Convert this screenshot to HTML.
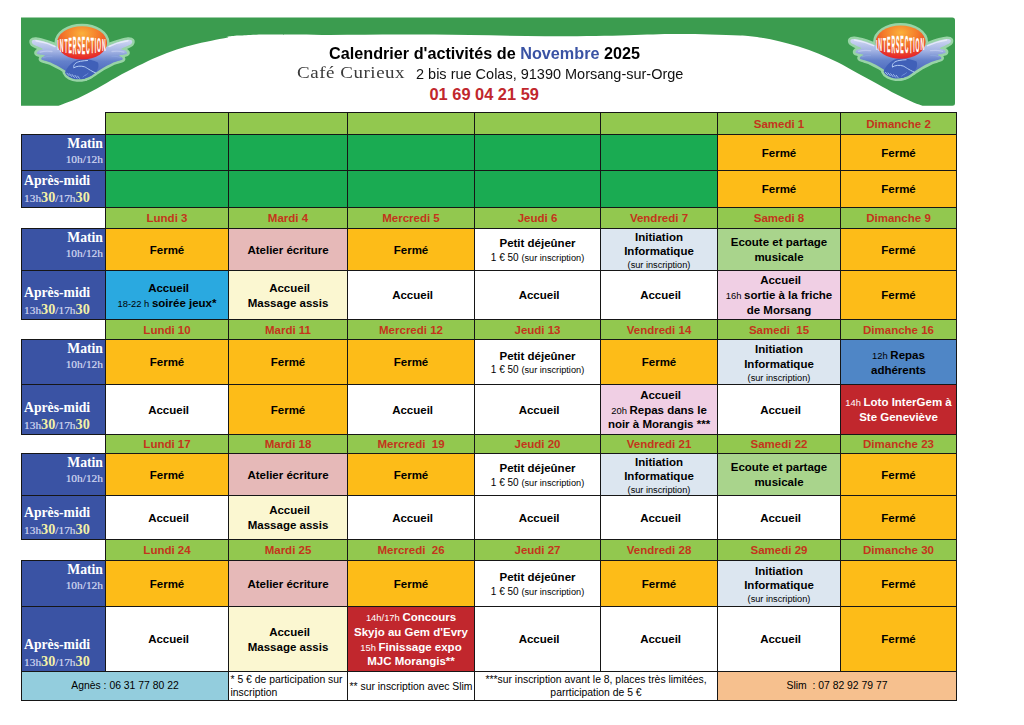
<!DOCTYPE html>
<html><head><meta charset="utf-8"><title>Calendrier</title>
<style>
html,body{margin:0;padding:0;background:#fff;}
body{width:1024px;height:725px;position:relative;overflow:hidden;font-family:"Liberation Sans",sans-serif;color:#000;}
.c{position:absolute;box-sizing:border-box;border:1px solid #161616;display:flex;align-items:center;justify-content:center;text-align:center;font-size:11.5px;line-height:14.75px;}
.c .t{width:100%;padding-top:1px;}
.h{color:#c4351c;font-weight:bold;font-size:11.5px;}
.h .t{padding-top:1px;}
.ln{line-height:14.75px;}
.l2{line-height:13.2px;}
.l3{line-height:11.5px;}
.m,.m2,.s{line-height:0;}
.m{font-size:9.4px;font-weight:normal;}
.m2{font-size:10px;font-weight:normal;}
.s{font-size:9.2px;font-weight:normal;}
.w{color:#fff;}
.lab{background:#3a53a4;font-family:"Liberation Serif",serif;color:#fff;display:block;}
.lab .l1{font-weight:bold;font-size:13.7px;}
.lab .l2{font-size:11.4px;color:#d3d8f1;-webkit-text-stroke:0.2px #d3d8f1;}
.lab .l2 b{font-size:14.2px;color:#f4f1a6;-webkit-text-stroke:0;}
.mt{position:absolute;right:2px;top:1px;text-align:right;line-height:15.3px;}
.am{position:absolute;left:2px;bottom:-1px;text-align:left;line-height:17.6px;white-space:nowrap;}
.f{font-size:10.4px;line-height:12.6px;color:#000;}
.fl{text-align:left;justify-content:flex-start;}
.fl .t{padding-left:1.5px;padding-top:2px;}
#ban{position:absolute;left:0;top:0;}
.tt{position:absolute;white-space:nowrap;transform-origin:0 0;}
</style></head><body>
<svg id="ban" width="1024" height="112" viewBox="0 0 1024 112">
<defs>
<radialGradient id="og" cx="50%" cy="22%" r="75%"><stop offset="0" stop-color="#fbb03b"/><stop offset="0.45" stop-color="#f47b2a"/><stop offset="1" stop-color="#e5262a"/></radialGradient>
<linearGradient id="wg" x1="0" y1="0" x2="0" y2="1"><stop offset="0" stop-color="#d2d9f3"/><stop offset="0.3" stop-color="#a3b3e3"/><stop offset="0.55" stop-color="#6481cb"/><stop offset="1" stop-color="#3f5fb6"/></linearGradient>
<filter id="gl" x="-10%" y="-10%" width="120%" height="120%"><feGaussianBlur stdDeviation="0.55"/></filter>
</defs>
<path fill="#3b9c4f" d="M21,17.4 H952.3 Q955,17.4 955,20.2 V103.2 Q955,105.7 952.3,105.7 H922.5 C921.00,105.08 917.88,104.38 913.50,102.50 C909.12,100.62 902.25,97.38 896.25,94.30 C890.25,91.22 884.01,87.55 877.50,84.00 C870.99,80.45 863.83,76.63 857.20,73.00 C850.57,69.37 844.22,65.47 837.70,62.20 C831.18,58.93 824.62,56.00 818.10,53.40 C811.58,50.80 805.12,48.62 798.60,46.60 C792.08,44.58 785.52,42.83 779.00,41.30 C772.48,39.77 766.00,38.35 759.50,37.40 C753.00,36.45 748.25,36.10 740.00,35.60 C731.75,35.10 721.67,34.67 710.00,34.40 C698.33,34.13 685.00,33.83 670.00,34.00 C655.00,34.17 640.83,35.03 620.00,35.40 C599.17,35.77 570.00,36.27 545.00,36.20 C520.00,36.13 494.17,35.27 470.00,35.00 C445.83,34.73 423.33,34.60 400.00,34.60 C376.67,34.60 352.50,35.00 330.00,35.00 C307.50,35.00 280.17,34.50 265.00,34.60 C249.83,34.70 245.17,35.27 239.00,35.60 C232.83,35.93 229.92,36.27 228.00,36.60 C226.08,36.93 229.53,37.07 227.50,37.60 C225.47,38.13 221.01,38.72 215.80,39.80 C210.59,40.88 202.77,42.48 196.25,44.10 C189.73,45.72 183.21,47.35 176.70,49.50 C170.19,51.65 163.70,54.23 157.20,57.00 C150.70,59.77 144.48,62.72 137.70,66.10 C130.92,69.48 123.28,73.55 116.50,77.30 C109.72,81.05 103.42,85.12 97.00,88.60 C90.58,92.08 84.42,95.35 78.00,98.20 C71.58,101.05 61.75,104.45 58.50,105.70 H21 Z"/>
<g transform="translate(82.0,42.9)">
<g fill="#9ed8ab" stroke="#9ed8ab" stroke-width="5.0" stroke-linejoin="round" opacity="0.95" filter="url(#gl)"><path d="M20.00,6.00 C21.60,5.25 26.45,2.77 29.57,1.50 C32.70,0.23 35.98,-0.82 38.73,-1.60 C41.47,-2.38 44.17,-3.10 46.05,-3.20 C47.92,-3.30 49.45,-2.90 49.98,-2.20 C50.51,-1.50 50.21,0.03 49.25,1.00 C48.29,1.97 45.89,2.73 44.22,3.60 C42.54,4.47 39.26,5.47 39.18,6.20 C39.11,6.93 42.77,7.28 43.76,8.00 C44.75,8.72 45.51,9.87 45.13,10.50 C44.75,11.13 42.80,11.45 41.47,11.80 C40.14,12.15 37.40,12.13 37.17,12.60 C36.94,13.07 39.53,13.93 40.10,14.60 C40.66,15.27 41.24,16.00 40.55,16.60 C39.87,17.20 37.81,17.55 35.98,18.20 C34.15,18.85 32.07,19.37 29.57,20.50 C27.08,21.63 23.60,23.50 21.00,25.00 C18.40,26.50 16.17,28.07 14.00,29.50 C11.83,30.93 10.00,32.55 8.00,33.60 C6.00,34.65 3.83,35.47 2.00,35.80 C0.17,36.13 -2.17,35.63 -3.00,35.60 L0,10 Z"/><path d="M-20.00,6.00 C-21.60,5.25 -26.45,2.77 -29.57,1.50 C-32.70,0.23 -35.98,-0.82 -38.73,-1.60 C-41.47,-2.38 -44.17,-3.10 -46.05,-3.20 C-47.92,-3.30 -49.45,-2.90 -49.98,-2.20 C-50.51,-1.50 -50.21,0.03 -49.25,1.00 C-48.29,1.97 -45.89,2.73 -44.22,3.60 C-42.54,4.47 -39.26,5.47 -39.18,6.20 C-39.11,6.93 -42.77,7.28 -43.76,8.00 C-44.75,8.72 -45.51,9.87 -45.13,10.50 C-44.75,11.13 -42.80,11.45 -41.47,11.80 C-40.14,12.15 -37.40,12.13 -37.17,12.60 C-36.94,13.07 -39.53,13.93 -40.10,14.60 C-40.66,15.27 -41.24,16.00 -40.55,16.60 C-39.87,17.20 -37.81,17.55 -35.98,18.20 C-34.15,18.85 -32.07,19.37 -29.57,20.50 C-27.08,21.63 -23.60,23.50 -21.00,25.00 C-18.40,26.50 -16.17,28.07 -14.00,29.50 C-11.83,30.93 -10.00,32.55 -8.00,33.60 C-6.00,34.65 -3.83,35.47 -2.00,35.80 C-0.17,36.13 2.17,35.63 3.00,35.60 L0,10 Z"/><ellipse cx="0" cy="0" rx="25" ry="16.7"/><path d="M-17,29.5 C-15,24 -10,18.5 -3,16.5 C3,15.3 10,16.5 16,19.5 C17.5,24 15.5,29 10,32 C5,35 0,36.8 -5,36.4 C-10,36 -15.5,33.5 -17,29.5 Z"/></g>
<path d="M20.00,6.00 C21.60,5.25 26.45,2.77 29.57,1.50 C32.70,0.23 35.98,-0.82 38.73,-1.60 C41.47,-2.38 44.17,-3.10 46.05,-3.20 C47.92,-3.30 49.45,-2.90 49.98,-2.20 C50.51,-1.50 50.21,0.03 49.25,1.00 C48.29,1.97 45.89,2.73 44.22,3.60 C42.54,4.47 39.26,5.47 39.18,6.20 C39.11,6.93 42.77,7.28 43.76,8.00 C44.75,8.72 45.51,9.87 45.13,10.50 C44.75,11.13 42.80,11.45 41.47,11.80 C40.14,12.15 37.40,12.13 37.17,12.60 C36.94,13.07 39.53,13.93 40.10,14.60 C40.66,15.27 41.24,16.00 40.55,16.60 C39.87,17.20 37.81,17.55 35.98,18.20 C34.15,18.85 32.07,19.37 29.57,20.50 C27.08,21.63 23.60,23.50 21.00,25.00 C18.40,26.50 16.17,28.07 14.00,29.50 C11.83,30.93 10.00,32.55 8.00,33.60 C6.00,34.65 3.83,35.47 2.00,35.80 C0.17,36.13 -2.17,35.63 -3.00,35.60 L0,10 Z" fill="url(#wg)"/><path d="M-20.00,6.00 C-21.60,5.25 -26.45,2.77 -29.57,1.50 C-32.70,0.23 -35.98,-0.82 -38.73,-1.60 C-41.47,-2.38 -44.17,-3.10 -46.05,-3.20 C-47.92,-3.30 -49.45,-2.90 -49.98,-2.20 C-50.51,-1.50 -50.21,0.03 -49.25,1.00 C-48.29,1.97 -45.89,2.73 -44.22,3.60 C-42.54,4.47 -39.26,5.47 -39.18,6.20 C-39.11,6.93 -42.77,7.28 -43.76,8.00 C-44.75,8.72 -45.51,9.87 -45.13,10.50 C-44.75,11.13 -42.80,11.45 -41.47,11.80 C-40.14,12.15 -37.40,12.13 -37.17,12.60 C-36.94,13.07 -39.53,13.93 -40.10,14.60 C-40.66,15.27 -41.24,16.00 -40.55,16.60 C-39.87,17.20 -37.81,17.55 -35.98,18.20 C-34.15,18.85 -32.07,19.37 -29.57,20.50 C-27.08,21.63 -23.60,23.50 -21.00,25.00 C-18.40,26.50 -16.17,28.07 -14.00,29.50 C-11.83,30.93 -10.00,32.55 -8.00,33.60 C-6.00,34.65 -3.83,35.47 -2.00,35.80 C-0.17,36.13 2.17,35.63 3.00,35.60 L0,10 Z" fill="url(#wg)"/>
<path d="M27.0,3.6 Q36.0,-0.8 46.0,-2.2" fill="none" stroke="#eef1fb" stroke-width="1.5" stroke-linecap="round" opacity="0.8"/>
<path d="M30.0,8.6 Q36.0,7.6 42.0,9.2" fill="none" stroke="#c3cef0" stroke-width="1.3" stroke-linecap="round" opacity="0.75"/>
<path d="M30.0,13.4 Q34.0,13 38.5,14.6" fill="none" stroke="#8fa6e0" stroke-width="1.1" stroke-linecap="round" opacity="0.7"/>
<path d="M-27.0,3.6 Q-36.0,-0.8 -46.0,-2.2" fill="none" stroke="#eef1fb" stroke-width="1.5" stroke-linecap="round" opacity="0.8"/>
<path d="M-30.0,8.6 Q-36.0,7.6 -42.0,9.2" fill="none" stroke="#c3cef0" stroke-width="1.3" stroke-linecap="round" opacity="0.75"/>
<path d="M-30.0,13.4 Q-34.0,13 -38.5,14.6" fill="none" stroke="#8fa6e0" stroke-width="1.1" stroke-linecap="round" opacity="0.7"/>
<path d="M-17,29.5 C-15,24 -10,18.5 -3,16.5 C3,15.3 10,16.5 16,19.5 C17.5,24 15.5,29 10,32 C5,35 0,36.8 -5,36.4 C-10,36 -15.5,33.5 -17,29.5 Z" fill="#4060b8"/>
<path d="M-8.2,24.6 C-9,21.5 -6,19.2 -1.5,18.4 C1,17.9 3.5,17.7 5.5,17.6 M-8,24.8 C-5.5,23 -1,22.8 2.6,23.9 C5,25 8,27.6 13.6,30" fill="none" stroke="#b4cdf5" stroke-width="1.0" stroke-linecap="round"/>
<path d="M-15.2,30.2 l2.2,2.4 M-12.6,30.8 l2.3,2.8 M-9.9,31.6 l2.3,2.9 M-7.1,32.4 l2.1,2.7 M-4.4,33.2 l1.8,2.2" fill="none" stroke="#b4cdf5" stroke-width="0.85" stroke-linecap="round"/>
<path d="M6,30.5 l-2.6,2.2 M3.4,32 l-2.4,2" fill="none" stroke="#6f8ed8" stroke-width="0.8" stroke-linecap="round"/>
<ellipse cx="0" cy="0" rx="25" ry="16.7" fill="url(#og)"/>
<text transform="translate(-23.93,7.45) scale(0.1275,0.3524)" text-anchor="middle" font-family="Liberation Sans, sans-serif" font-weight="bold" font-size="40" fill="#fff" stroke="#fff" stroke-width="0.45">I</text>
<text transform="translate(-20.50,8.61) scale(0.1275,0.4371)" text-anchor="middle" font-family="Liberation Sans, sans-serif" font-weight="bold" font-size="40" fill="#fff" stroke="#fff" stroke-width="0.45">N</text>
<text transform="translate(-16.04,9.62) scale(0.1275,0.5099)" text-anchor="middle" font-family="Liberation Sans, sans-serif" font-weight="bold" font-size="40" fill="#fff" stroke="#fff" stroke-width="0.45">T</text>
<text transform="translate(-11.82,10.27) scale(0.1275,0.5573)" text-anchor="middle" font-family="Liberation Sans, sans-serif" font-weight="bold" font-size="40" fill="#fff" stroke="#fff" stroke-width="0.45">E</text>
<text transform="translate(-7.37,10.72) scale(0.1275,0.5899)" text-anchor="middle" font-family="Liberation Sans, sans-serif" font-weight="bold" font-size="40" fill="#fff" stroke="#fff" stroke-width="0.45">R</text>
<text transform="translate(-2.86,10.95) scale(0.1275,0.6070)" text-anchor="middle" font-family="Liberation Sans, sans-serif" font-weight="bold" font-size="40" fill="#fff" stroke="#fff" stroke-width="0.45">S</text>
<text transform="translate(1.45,10.98) scale(0.1275,0.6092)" text-anchor="middle" font-family="Liberation Sans, sans-serif" font-weight="bold" font-size="40" fill="#fff" stroke="#fff" stroke-width="0.45">E</text>
<text transform="translate(5.90,10.82) scale(0.1275,0.5972)" text-anchor="middle" font-family="Liberation Sans, sans-serif" font-weight="bold" font-size="40" fill="#fff" stroke="#fff" stroke-width="0.45">C</text>
<text transform="translate(10.31,10.45) scale(0.1275,0.5702)" text-anchor="middle" font-family="Liberation Sans, sans-serif" font-weight="bold" font-size="40" fill="#fff" stroke="#fff" stroke-width="0.45">T</text>
<text transform="translate(13.46,10.04) scale(0.1275,0.5409)" text-anchor="middle" font-family="Liberation Sans, sans-serif" font-weight="bold" font-size="40" fill="#fff" stroke="#fff" stroke-width="0.45">I</text>
<text transform="translate(17.00,9.43) scale(0.1275,0.4966)" text-anchor="middle" font-family="Liberation Sans, sans-serif" font-weight="bold" font-size="40" fill="#fff" stroke="#fff" stroke-width="0.45">O</text>
<text transform="translate(21.83,8.22) scale(0.1275,0.4088)" text-anchor="middle" font-family="Liberation Sans, sans-serif" font-weight="bold" font-size="40" fill="#fff" stroke="#fff" stroke-width="0.45">N</text>
</g>
<g transform="translate(900.6,42.1)">
<g fill="#9ed8ab" stroke="#9ed8ab" stroke-width="5.0" stroke-linejoin="round" opacity="0.95" filter="url(#gl)"><path d="M20.00,6.00 C21.60,5.25 26.45,2.77 29.57,1.50 C32.70,0.23 35.98,-0.82 38.73,-1.60 C41.47,-2.38 44.17,-3.10 46.05,-3.20 C47.92,-3.30 49.45,-2.90 49.98,-2.20 C50.51,-1.50 50.21,0.03 49.25,1.00 C48.29,1.97 45.89,2.73 44.22,3.60 C42.54,4.47 39.26,5.47 39.18,6.20 C39.11,6.93 42.77,7.28 43.76,8.00 C44.75,8.72 45.51,9.87 45.13,10.50 C44.75,11.13 42.80,11.45 41.47,11.80 C40.14,12.15 37.40,12.13 37.17,12.60 C36.94,13.07 39.53,13.93 40.10,14.60 C40.66,15.27 41.24,16.00 40.55,16.60 C39.87,17.20 37.81,17.55 35.98,18.20 C34.15,18.85 32.07,19.37 29.57,20.50 C27.08,21.63 23.60,23.50 21.00,25.00 C18.40,26.50 16.17,28.07 14.00,29.50 C11.83,30.93 10.00,32.55 8.00,33.60 C6.00,34.65 3.83,35.47 2.00,35.80 C0.17,36.13 -2.17,35.63 -3.00,35.60 L0,10 Z"/><path d="M-20.00,6.00 C-21.60,5.25 -26.45,2.77 -29.57,1.50 C-32.70,0.23 -35.98,-0.82 -38.73,-1.60 C-41.47,-2.38 -44.17,-3.10 -46.05,-3.20 C-47.92,-3.30 -49.45,-2.90 -49.98,-2.20 C-50.51,-1.50 -50.21,0.03 -49.25,1.00 C-48.29,1.97 -45.89,2.73 -44.22,3.60 C-42.54,4.47 -39.26,5.47 -39.18,6.20 C-39.11,6.93 -42.77,7.28 -43.76,8.00 C-44.75,8.72 -45.51,9.87 -45.13,10.50 C-44.75,11.13 -42.80,11.45 -41.47,11.80 C-40.14,12.15 -37.40,12.13 -37.17,12.60 C-36.94,13.07 -39.53,13.93 -40.10,14.60 C-40.66,15.27 -41.24,16.00 -40.55,16.60 C-39.87,17.20 -37.81,17.55 -35.98,18.20 C-34.15,18.85 -32.07,19.37 -29.57,20.50 C-27.08,21.63 -23.60,23.50 -21.00,25.00 C-18.40,26.50 -16.17,28.07 -14.00,29.50 C-11.83,30.93 -10.00,32.55 -8.00,33.60 C-6.00,34.65 -3.83,35.47 -2.00,35.80 C-0.17,36.13 2.17,35.63 3.00,35.60 L0,10 Z"/><ellipse cx="0" cy="0" rx="25" ry="16.7"/><path d="M-17,29.5 C-15,24 -10,18.5 -3,16.5 C3,15.3 10,16.5 16,19.5 C17.5,24 15.5,29 10,32 C5,35 0,36.8 -5,36.4 C-10,36 -15.5,33.5 -17,29.5 Z"/></g>
<path d="M20.00,6.00 C21.60,5.25 26.45,2.77 29.57,1.50 C32.70,0.23 35.98,-0.82 38.73,-1.60 C41.47,-2.38 44.17,-3.10 46.05,-3.20 C47.92,-3.30 49.45,-2.90 49.98,-2.20 C50.51,-1.50 50.21,0.03 49.25,1.00 C48.29,1.97 45.89,2.73 44.22,3.60 C42.54,4.47 39.26,5.47 39.18,6.20 C39.11,6.93 42.77,7.28 43.76,8.00 C44.75,8.72 45.51,9.87 45.13,10.50 C44.75,11.13 42.80,11.45 41.47,11.80 C40.14,12.15 37.40,12.13 37.17,12.60 C36.94,13.07 39.53,13.93 40.10,14.60 C40.66,15.27 41.24,16.00 40.55,16.60 C39.87,17.20 37.81,17.55 35.98,18.20 C34.15,18.85 32.07,19.37 29.57,20.50 C27.08,21.63 23.60,23.50 21.00,25.00 C18.40,26.50 16.17,28.07 14.00,29.50 C11.83,30.93 10.00,32.55 8.00,33.60 C6.00,34.65 3.83,35.47 2.00,35.80 C0.17,36.13 -2.17,35.63 -3.00,35.60 L0,10 Z" fill="url(#wg)"/><path d="M-20.00,6.00 C-21.60,5.25 -26.45,2.77 -29.57,1.50 C-32.70,0.23 -35.98,-0.82 -38.73,-1.60 C-41.47,-2.38 -44.17,-3.10 -46.05,-3.20 C-47.92,-3.30 -49.45,-2.90 -49.98,-2.20 C-50.51,-1.50 -50.21,0.03 -49.25,1.00 C-48.29,1.97 -45.89,2.73 -44.22,3.60 C-42.54,4.47 -39.26,5.47 -39.18,6.20 C-39.11,6.93 -42.77,7.28 -43.76,8.00 C-44.75,8.72 -45.51,9.87 -45.13,10.50 C-44.75,11.13 -42.80,11.45 -41.47,11.80 C-40.14,12.15 -37.40,12.13 -37.17,12.60 C-36.94,13.07 -39.53,13.93 -40.10,14.60 C-40.66,15.27 -41.24,16.00 -40.55,16.60 C-39.87,17.20 -37.81,17.55 -35.98,18.20 C-34.15,18.85 -32.07,19.37 -29.57,20.50 C-27.08,21.63 -23.60,23.50 -21.00,25.00 C-18.40,26.50 -16.17,28.07 -14.00,29.50 C-11.83,30.93 -10.00,32.55 -8.00,33.60 C-6.00,34.65 -3.83,35.47 -2.00,35.80 C-0.17,36.13 2.17,35.63 3.00,35.60 L0,10 Z" fill="url(#wg)"/>
<path d="M27.0,3.6 Q36.0,-0.8 46.0,-2.2" fill="none" stroke="#eef1fb" stroke-width="1.5" stroke-linecap="round" opacity="0.8"/>
<path d="M30.0,8.6 Q36.0,7.6 42.0,9.2" fill="none" stroke="#c3cef0" stroke-width="1.3" stroke-linecap="round" opacity="0.75"/>
<path d="M30.0,13.4 Q34.0,13 38.5,14.6" fill="none" stroke="#8fa6e0" stroke-width="1.1" stroke-linecap="round" opacity="0.7"/>
<path d="M-27.0,3.6 Q-36.0,-0.8 -46.0,-2.2" fill="none" stroke="#eef1fb" stroke-width="1.5" stroke-linecap="round" opacity="0.8"/>
<path d="M-30.0,8.6 Q-36.0,7.6 -42.0,9.2" fill="none" stroke="#c3cef0" stroke-width="1.3" stroke-linecap="round" opacity="0.75"/>
<path d="M-30.0,13.4 Q-34.0,13 -38.5,14.6" fill="none" stroke="#8fa6e0" stroke-width="1.1" stroke-linecap="round" opacity="0.7"/>
<path d="M-17,29.5 C-15,24 -10,18.5 -3,16.5 C3,15.3 10,16.5 16,19.5 C17.5,24 15.5,29 10,32 C5,35 0,36.8 -5,36.4 C-10,36 -15.5,33.5 -17,29.5 Z" fill="#4060b8"/>
<path d="M-8.2,24.6 C-9,21.5 -6,19.2 -1.5,18.4 C1,17.9 3.5,17.7 5.5,17.6 M-8,24.8 C-5.5,23 -1,22.8 2.6,23.9 C5,25 8,27.6 13.6,30" fill="none" stroke="#b4cdf5" stroke-width="1.0" stroke-linecap="round"/>
<path d="M-15.2,30.2 l2.2,2.4 M-12.6,30.8 l2.3,2.8 M-9.9,31.6 l2.3,2.9 M-7.1,32.4 l2.1,2.7 M-4.4,33.2 l1.8,2.2" fill="none" stroke="#b4cdf5" stroke-width="0.85" stroke-linecap="round"/>
<path d="M6,30.5 l-2.6,2.2 M3.4,32 l-2.4,2" fill="none" stroke="#6f8ed8" stroke-width="0.8" stroke-linecap="round"/>
<ellipse cx="0" cy="0" rx="25" ry="16.7" fill="url(#og)"/>
<text transform="translate(-23.93,7.45) scale(0.1275,0.3524)" text-anchor="middle" font-family="Liberation Sans, sans-serif" font-weight="bold" font-size="40" fill="#fff" stroke="#fff" stroke-width="0.45">I</text>
<text transform="translate(-20.50,8.61) scale(0.1275,0.4371)" text-anchor="middle" font-family="Liberation Sans, sans-serif" font-weight="bold" font-size="40" fill="#fff" stroke="#fff" stroke-width="0.45">N</text>
<text transform="translate(-16.04,9.62) scale(0.1275,0.5099)" text-anchor="middle" font-family="Liberation Sans, sans-serif" font-weight="bold" font-size="40" fill="#fff" stroke="#fff" stroke-width="0.45">T</text>
<text transform="translate(-11.82,10.27) scale(0.1275,0.5573)" text-anchor="middle" font-family="Liberation Sans, sans-serif" font-weight="bold" font-size="40" fill="#fff" stroke="#fff" stroke-width="0.45">E</text>
<text transform="translate(-7.37,10.72) scale(0.1275,0.5899)" text-anchor="middle" font-family="Liberation Sans, sans-serif" font-weight="bold" font-size="40" fill="#fff" stroke="#fff" stroke-width="0.45">R</text>
<text transform="translate(-2.86,10.95) scale(0.1275,0.6070)" text-anchor="middle" font-family="Liberation Sans, sans-serif" font-weight="bold" font-size="40" fill="#fff" stroke="#fff" stroke-width="0.45">S</text>
<text transform="translate(1.45,10.98) scale(0.1275,0.6092)" text-anchor="middle" font-family="Liberation Sans, sans-serif" font-weight="bold" font-size="40" fill="#fff" stroke="#fff" stroke-width="0.45">E</text>
<text transform="translate(5.90,10.82) scale(0.1275,0.5972)" text-anchor="middle" font-family="Liberation Sans, sans-serif" font-weight="bold" font-size="40" fill="#fff" stroke="#fff" stroke-width="0.45">C</text>
<text transform="translate(10.31,10.45) scale(0.1275,0.5702)" text-anchor="middle" font-family="Liberation Sans, sans-serif" font-weight="bold" font-size="40" fill="#fff" stroke="#fff" stroke-width="0.45">T</text>
<text transform="translate(13.46,10.04) scale(0.1275,0.5409)" text-anchor="middle" font-family="Liberation Sans, sans-serif" font-weight="bold" font-size="40" fill="#fff" stroke="#fff" stroke-width="0.45">I</text>
<text transform="translate(17.00,9.43) scale(0.1275,0.4966)" text-anchor="middle" font-family="Liberation Sans, sans-serif" font-weight="bold" font-size="40" fill="#fff" stroke="#fff" stroke-width="0.45">O</text>
<text transform="translate(21.83,8.22) scale(0.1275,0.4088)" text-anchor="middle" font-family="Liberation Sans, sans-serif" font-weight="bold" font-size="40" fill="#fff" stroke="#fff" stroke-width="0.45">N</text>
</g>
</svg>
<div class="tt" id="t1" style="left:329px;top:43px;font-weight:bold;font-size:17.4px;line-height:20px;transform:scaleX(0.932);">Calendrier d'activités de <span style="color:#3a53a4">Novembre</span> 2025</div>
<div class="tt" id="t2" style="left:296.5px;top:62px;font-family:'Liberation Serif',serif;font-size:17.4px;line-height:20px;color:#3a3a3a;letter-spacing:0.5px;transform:scaleX(1.09);">Café Curieux</div>
<div class="tt" id="t3" style="left:416px;top:64px;font-size:14.6px;transform:scaleX(0.993);line-height:20px;color:#111;">2 bis rue Colas, 91390 Morsang-sur-Orge</div>
<div class="tt" id="t4" style="left:429.5px;top:84px;font-weight:bold;font-size:16.4px;line-height:20px;color:#c1272d;">01 69 04 21 59</div>
<div class="c h" style="left:105px;top:112px;width:124px;height:23px;background:#92c84f;"></div>
<div class="c h" style="left:228px;top:112px;width:120px;height:23px;background:#92c84f;"></div>
<div class="c h" style="left:347px;top:112px;width:128px;height:23px;background:#92c84f;"></div>
<div class="c h" style="left:474px;top:112px;width:127px;height:23px;background:#92c84f;"></div>
<div class="c h" style="left:600px;top:112px;width:118px;height:23px;background:#92c84f;"></div>
<div class="c h" style="left:717px;top:112px;width:124px;height:23px;background:#92c84f;"><div class="t">Samedi 1</div></div>
<div class="c h" style="left:840px;top:112px;width:117px;height:23px;background:#92c84f;"><div class="t">Dimanche 2</div></div>
<div class="c lab" style="left:21px;top:134px;width:85px;height:37px;"><div class="mt"><span class="l1">Matin</span><br><span class="l2">10h/12h</span></div></div>
<div class="c lab" style="left:21px;top:170px;width:85px;height:38px;"><div class="am"><span class="l1">Après-midi</span><br><span class="l2">13h<b>30</b>/17h<b>30</b></span></div></div>
<div class="c" style="left:105px;top:134px;width:124px;height:37px;background:#1aab52;"></div>
<div class="c" style="left:105px;top:170px;width:124px;height:38px;background:#1aab52;"></div>
<div class="c" style="left:228px;top:134px;width:120px;height:37px;background:#1aab52;"></div>
<div class="c" style="left:228px;top:170px;width:120px;height:38px;background:#1aab52;"></div>
<div class="c" style="left:347px;top:134px;width:128px;height:37px;background:#1aab52;"></div>
<div class="c" style="left:347px;top:170px;width:128px;height:38px;background:#1aab52;"></div>
<div class="c" style="left:474px;top:134px;width:127px;height:37px;background:#1aab52;"></div>
<div class="c" style="left:474px;top:170px;width:127px;height:38px;background:#1aab52;"></div>
<div class="c" style="left:600px;top:134px;width:118px;height:37px;background:#1aab52;"></div>
<div class="c" style="left:600px;top:170px;width:118px;height:38px;background:#1aab52;"></div>
<div class="c" style="left:717px;top:134px;width:124px;height:37px;background:#fdbc18;"><div class="t"><div class="ln"><b>Fermé</b></div></div></div>
<div class="c" style="left:717px;top:170px;width:124px;height:38px;background:#fdbc18;"><div class="t"><div class="ln"><b>Fermé</b></div></div></div>
<div class="c" style="left:840px;top:134px;width:117px;height:37px;background:#fdbc18;"><div class="t"><div class="ln"><b>Fermé</b></div></div></div>
<div class="c" style="left:840px;top:170px;width:117px;height:38px;background:#fdbc18;"><div class="t"><div class="ln"><b>Fermé</b></div></div></div>
<div class="c h" style="left:105px;top:207px;width:124px;height:22px;background:#92c84f;"><div class="t">Lundi 3</div></div>
<div class="c h" style="left:228px;top:207px;width:120px;height:22px;background:#92c84f;"><div class="t">Mardi 4</div></div>
<div class="c h" style="left:347px;top:207px;width:128px;height:22px;background:#92c84f;"><div class="t">Mercredi 5</div></div>
<div class="c h" style="left:474px;top:207px;width:127px;height:22px;background:#92c84f;"><div class="t">Jeudi 6</div></div>
<div class="c h" style="left:600px;top:207px;width:118px;height:22px;background:#92c84f;"><div class="t">Vendredi 7</div></div>
<div class="c h" style="left:717px;top:207px;width:124px;height:22px;background:#92c84f;"><div class="t">Samedi 8</div></div>
<div class="c h" style="left:840px;top:207px;width:117px;height:22px;background:#92c84f;"><div class="t">Dimanche 9</div></div>
<div class="c lab" style="left:21px;top:228px;width:85px;height:43px;"><div class="mt"><span class="l1">Matin</span><br><span class="l2">10h/12h</span></div></div>
<div class="c lab" style="left:21px;top:270px;width:85px;height:50px;"><div class="am"><span class="l1">Après-midi</span><br><span class="l2">13h<b>30</b>/17h<b>30</b></span></div></div>
<div class="c" style="left:105px;top:228px;width:124px;height:43px;background:#fdbc18;"><div class="t"><div class="ln"><b>Fermé</b></div></div></div>
<div class="c" style="left:105px;top:270px;width:124px;height:50px;background:#2aa9e0;"><div class="t"><div class="ln"><b>&nbsp;Accueil</b></div><div class="ln"><span class="m">18-22 h </span><b>soirée jeux*</b></div></div></div>
<div class="c" style="left:228px;top:228px;width:120px;height:43px;background:#e6b9b8;"><div class="t"><div class="ln"><b>Atelier écriture</b></div></div></div>
<div class="c" style="left:228px;top:270px;width:120px;height:50px;background:#fbf7d1;"><div class="t"><div class="ln"><b>&nbsp;Accueil</b></div><div class="ln"><b>Massage assis</b></div></div></div>
<div class="c" style="left:347px;top:228px;width:128px;height:43px;background:#fdbc18;"><div class="t"><div class="ln"><b>Fermé</b></div></div></div>
<div class="c" style="left:347px;top:270px;width:128px;height:50px;background:#ffffff;"><div class="t"><div class="ln"><b>&nbsp;Accueil</b></div></div></div>
<div class="c" style="left:474px;top:228px;width:127px;height:43px;background:#ffffff;"><div class="t"><div class="ln"><b>Petit déjeûner</b></div><div class="l2"><span class="m2">1 € 50 </span><span class="s">(sur inscription)</span></div></div></div>
<div class="c" style="left:474px;top:270px;width:127px;height:50px;background:#ffffff;"><div class="t"><div class="ln"><b>&nbsp;Accueil</b></div></div></div>
<div class="c" style="left:600px;top:228px;width:118px;height:43px;background:#dce6f0;"><div class="t"><div class="ln"><b>Initiation</b></div><div class="ln"><b>Informatique</b></div><div class="l3"><span class="s">(sur inscription)</span></div></div></div>
<div class="c" style="left:600px;top:270px;width:118px;height:50px;background:#ffffff;"><div class="t"><div class="ln"><b>&nbsp;Accueil</b></div></div></div>
<div class="c" style="left:717px;top:228px;width:124px;height:43px;background:#a9d48c;"><div class="t"><div class="ln"><b>Ecoute et partage</b></div><div class="ln"><b>musicale</b></div></div></div>
<div class="c" style="left:717px;top:270px;width:124px;height:50px;background:#f0cfe4;"><div class="t"><div class="ln"><b>&nbsp;Accueil</b></div><div class="ln"><span class="m">16h </span><b>sortie à la friche</b></div><div class="ln"><b>de Morsang</b></div></div></div>
<div class="c" style="left:840px;top:228px;width:117px;height:43px;background:#fdbc18;"><div class="t"><div class="ln"><b>Fermé</b></div></div></div>
<div class="c" style="left:840px;top:270px;width:117px;height:50px;background:#fdbc18;"><div class="t"><div class="ln"><b>Fermé</b></div></div></div>
<div class="c h" style="left:105px;top:319px;width:124px;height:21px;background:#92c84f;"><div class="t">Lundi 10</div></div>
<div class="c h" style="left:228px;top:319px;width:120px;height:21px;background:#92c84f;"><div class="t">Mardi 11</div></div>
<div class="c h" style="left:347px;top:319px;width:128px;height:21px;background:#92c84f;"><div class="t">Mercredi 12</div></div>
<div class="c h" style="left:474px;top:319px;width:127px;height:21px;background:#92c84f;"><div class="t">Jeudi 13</div></div>
<div class="c h" style="left:600px;top:319px;width:118px;height:21px;background:#92c84f;"><div class="t">Vendredi 14</div></div>
<div class="c h" style="left:717px;top:319px;width:124px;height:21px;background:#92c84f;"><div class="t">Samedi&nbsp; 15</div></div>
<div class="c h" style="left:840px;top:319px;width:117px;height:21px;background:#92c84f;"><div class="t">Dimanche 16</div></div>
<div class="c lab" style="left:21px;top:339px;width:85px;height:46px;"><div class="mt"><span class="l1">Matin</span><br><span class="l2">10h/12h</span></div></div>
<div class="c lab" style="left:21px;top:384px;width:85px;height:51px;"><div class="am"><span class="l1">Après-midi</span><br><span class="l2">13h<b>30</b>/17h<b>30</b></span></div></div>
<div class="c" style="left:105px;top:339px;width:124px;height:46px;background:#fdbc18;"><div class="t"><div class="ln"><b>Fermé</b></div></div></div>
<div class="c" style="left:105px;top:384px;width:124px;height:51px;background:#ffffff;"><div class="t"><div class="ln"><b>&nbsp;Accueil</b></div></div></div>
<div class="c" style="left:228px;top:339px;width:120px;height:46px;background:#fdbc18;"><div class="t"><div class="ln"><b>Fermé</b></div></div></div>
<div class="c" style="left:228px;top:384px;width:120px;height:51px;background:#fdbc18;"><div class="t"><div class="ln"><b>Fermé</b></div></div></div>
<div class="c" style="left:347px;top:339px;width:128px;height:46px;background:#fdbc18;"><div class="t"><div class="ln"><b>Fermé</b></div></div></div>
<div class="c" style="left:347px;top:384px;width:128px;height:51px;background:#ffffff;"><div class="t"><div class="ln"><b>&nbsp;Accueil</b></div></div></div>
<div class="c" style="left:474px;top:339px;width:127px;height:46px;background:#ffffff;"><div class="t"><div class="ln"><b>Petit déjeûner</b></div><div class="l2"><span class="m2">1 € 50 </span><span class="s">(sur inscription)</span></div></div></div>
<div class="c" style="left:474px;top:384px;width:127px;height:51px;background:#ffffff;"><div class="t"><div class="ln"><b>&nbsp;Accueil</b></div></div></div>
<div class="c" style="left:600px;top:339px;width:118px;height:46px;background:#fdbc18;"><div class="t"><div class="ln"><b>Fermé</b></div></div></div>
<div class="c" style="left:600px;top:384px;width:118px;height:51px;background:#f0cfe4;"><div class="t"><div class="ln"><b>&nbsp;Accueil</b></div><div class="ln"><span class="m">20h </span><b>Repas dans le</b></div><div class="ln"><b>noir à Morangis ***</b></div></div></div>
<div class="c" style="left:717px;top:339px;width:124px;height:46px;background:#dce6f0;"><div class="t"><div class="ln"><b>Initiation</b></div><div class="ln"><b>Informatique</b></div><div class="l3"><span class="s">(sur inscription)</span></div></div></div>
<div class="c" style="left:717px;top:384px;width:124px;height:51px;background:#ffffff;"><div class="t"><div class="ln"><b>&nbsp;Accueil</b></div></div></div>
<div class="c" style="left:840px;top:339px;width:117px;height:46px;background:#4f86c6;"><div class="t"><div class="ln"><span class="m">12h </span><b>Repas</b></div><div class="ln"><b>adhérents</b></div></div></div>
<div class="c" style="left:840px;top:384px;width:117px;height:51px;background:#c1272d;"><div class="t"><div class="w"><div class="ln"><span class="m">14h </span><b>Loto InterGem à</b></div><div class="ln"><b>Ste Geneviève</b></div></div></div></div>
<div class="c h" style="left:105px;top:434px;width:124px;height:20px;background:#92c84f;"><div class="t">Lundi 17</div></div>
<div class="c h" style="left:228px;top:434px;width:120px;height:20px;background:#92c84f;"><div class="t">Mardi 18</div></div>
<div class="c h" style="left:347px;top:434px;width:128px;height:20px;background:#92c84f;"><div class="t">Mercredi&nbsp; 19</div></div>
<div class="c h" style="left:474px;top:434px;width:127px;height:20px;background:#92c84f;"><div class="t">Jeudi 20</div></div>
<div class="c h" style="left:600px;top:434px;width:118px;height:20px;background:#92c84f;"><div class="t">Vendredi 21</div></div>
<div class="c h" style="left:717px;top:434px;width:124px;height:20px;background:#92c84f;"><div class="t">Samedi 22</div></div>
<div class="c h" style="left:840px;top:434px;width:117px;height:20px;background:#92c84f;"><div class="t">Dimanche 23</div></div>
<div class="c lab" style="left:21px;top:453px;width:85px;height:43px;"><div class="mt"><span class="l1">Matin</span><br><span class="l2">10h/12h</span></div></div>
<div class="c lab" style="left:21px;top:495px;width:85px;height:45px;"><div class="am"><span class="l1">Après-midi</span><br><span class="l2">13h<b>30</b>/17h<b>30</b></span></div></div>
<div class="c" style="left:105px;top:453px;width:124px;height:43px;background:#fdbc18;"><div class="t"><div class="ln"><b>Fermé</b></div></div></div>
<div class="c" style="left:105px;top:495px;width:124px;height:45px;background:#ffffff;"><div class="t"><div class="ln"><b>&nbsp;Accueil</b></div></div></div>
<div class="c" style="left:228px;top:453px;width:120px;height:43px;background:#e6b9b8;"><div class="t"><div class="ln"><b>Atelier écriture</b></div></div></div>
<div class="c" style="left:228px;top:495px;width:120px;height:45px;background:#fbf7d1;"><div class="t"><div class="ln"><b>&nbsp;Accueil</b></div><div class="ln"><b>Massage assis</b></div></div></div>
<div class="c" style="left:347px;top:453px;width:128px;height:43px;background:#fdbc18;"><div class="t"><div class="ln"><b>Fermé</b></div></div></div>
<div class="c" style="left:347px;top:495px;width:128px;height:45px;background:#ffffff;"><div class="t"><div class="ln"><b>&nbsp;Accueil</b></div></div></div>
<div class="c" style="left:474px;top:453px;width:127px;height:43px;background:#ffffff;"><div class="t"><div class="ln"><b>Petit déjeûner</b></div><div class="l2"><span class="m2">1 € 50 </span><span class="s">(sur inscription)</span></div></div></div>
<div class="c" style="left:474px;top:495px;width:127px;height:45px;background:#ffffff;"><div class="t"><div class="ln"><b>&nbsp;Accueil</b></div></div></div>
<div class="c" style="left:600px;top:453px;width:118px;height:43px;background:#dce6f0;"><div class="t"><div class="ln"><b>Initiation</b></div><div class="ln"><b>Informatique</b></div><div class="l3"><span class="s">(sur inscription)</span></div></div></div>
<div class="c" style="left:600px;top:495px;width:118px;height:45px;background:#ffffff;"><div class="t"><div class="ln"><b>&nbsp;Accueil</b></div></div></div>
<div class="c" style="left:717px;top:453px;width:124px;height:43px;background:#a9d48c;"><div class="t"><div class="ln"><b>Ecoute et partage</b></div><div class="ln"><b>musicale</b></div></div></div>
<div class="c" style="left:717px;top:495px;width:124px;height:45px;background:#ffffff;"><div class="t"><div class="ln"><b>&nbsp;Accueil</b></div></div></div>
<div class="c" style="left:840px;top:453px;width:117px;height:43px;background:#fdbc18;"><div class="t"><div class="ln"><b>Fermé</b></div></div></div>
<div class="c" style="left:840px;top:495px;width:117px;height:45px;background:#fdbc18;"><div class="t"><div class="ln"><b>Fermé</b></div></div></div>
<div class="c h" style="left:105px;top:539px;width:124px;height:22px;background:#92c84f;"><div class="t">Lundi 24</div></div>
<div class="c h" style="left:228px;top:539px;width:120px;height:22px;background:#92c84f;"><div class="t">Mardi 25</div></div>
<div class="c h" style="left:347px;top:539px;width:128px;height:22px;background:#92c84f;"><div class="t">Mercredi&nbsp; 26</div></div>
<div class="c h" style="left:474px;top:539px;width:127px;height:22px;background:#92c84f;"><div class="t">Jeudi 27</div></div>
<div class="c h" style="left:600px;top:539px;width:118px;height:22px;background:#92c84f;"><div class="t">Vendredi 28</div></div>
<div class="c h" style="left:717px;top:539px;width:124px;height:22px;background:#92c84f;"><div class="t">Samedi 29</div></div>
<div class="c h" style="left:840px;top:539px;width:117px;height:22px;background:#92c84f;"><div class="t">Dimanche 30</div></div>
<div class="c lab" style="left:21px;top:560px;width:85px;height:47px;"><div class="mt"><span class="l1">Matin</span><br><span class="l2">10h/12h</span></div></div>
<div class="c lab" style="left:21px;top:606px;width:85px;height:66px;"><div class="am"><span class="l1">Après-midi</span><br><span class="l2">13h<b>30</b>/17h<b>30</b></span></div></div>
<div class="c" style="left:105px;top:560px;width:124px;height:47px;background:#fdbc18;"><div class="t"><div class="ln"><b>Fermé</b></div></div></div>
<div class="c" style="left:105px;top:606px;width:124px;height:66px;background:#ffffff;"><div class="t"><div class="ln"><b>&nbsp;Accueil</b></div></div></div>
<div class="c" style="left:228px;top:560px;width:120px;height:47px;background:#e6b9b8;"><div class="t"><div class="ln"><b>Atelier écriture</b></div></div></div>
<div class="c" style="left:228px;top:606px;width:120px;height:66px;background:#fbf7d1;"><div class="t"><div class="ln"><b>&nbsp;Accueil</b></div><div class="ln"><b>Massage assis</b></div></div></div>
<div class="c" style="left:347px;top:560px;width:128px;height:47px;background:#fdbc18;"><div class="t"><div class="ln"><b>Fermé</b></div></div></div>
<div class="c" style="left:347px;top:606px;width:128px;height:66px;background:#c1272d;"><div class="t"><div class="w"><div class="ln"><span class="m">14h/17h </span><b>Concours</b></div><div class="ln"><b>Skyjo au Gem d'Evry</b></div><div class="ln"><span class="m">15h </span><b>Finissage expo</b></div><div class="ln"><b>MJC Morangis**</b></div></div></div></div>
<div class="c" style="left:474px;top:560px;width:127px;height:47px;background:#ffffff;"><div class="t"><div class="ln"><b>Petit déjeûner</b></div><div class="l2"><span class="m2">1 € 50 </span><span class="s">(sur inscription)</span></div></div></div>
<div class="c" style="left:474px;top:606px;width:127px;height:66px;background:#ffffff;"><div class="t"><div class="ln"><b>&nbsp;Accueil</b></div></div></div>
<div class="c" style="left:600px;top:560px;width:118px;height:47px;background:#fdbc18;"><div class="t"><div class="ln"><b>Fermé</b></div></div></div>
<div class="c" style="left:600px;top:606px;width:118px;height:66px;background:#ffffff;"><div class="t"><div class="ln"><b>&nbsp;Accueil</b></div></div></div>
<div class="c" style="left:717px;top:560px;width:124px;height:47px;background:#dce6f0;"><div class="t"><div class="ln"><b>Initiation</b></div><div class="ln"><b>Informatique</b></div><div class="l3"><span class="s">(sur inscription)</span></div></div></div>
<div class="c" style="left:717px;top:606px;width:124px;height:66px;background:#ffffff;"><div class="t"><div class="ln"><b>&nbsp;Accueil</b></div></div></div>
<div class="c" style="left:840px;top:560px;width:117px;height:47px;background:#fdbc18;"><div class="t"><div class="ln"><b>Fermé</b></div></div></div>
<div class="c" style="left:840px;top:606px;width:117px;height:66px;background:#fdbc18;"><div class="t"><div class="ln"><b>Fermé</b></div></div></div>
<div class="c f" style="left:21px;top:671px;width:208px;height:30px;background:#93cddd;"><div class="t">Agnès : 06 31 77 80 22</div></div>
<div class="c f fl" style="left:228px;top:671px;width:120px;height:30px;background:#ffffff;"><div class="t">* 5 € de participation sur inscription</div></div>
<div class="c f fl" style="left:347px;top:671px;width:128px;height:30px;background:#ffffff;"><div class="t">** sur inscription avec Slim</div></div>
<div class="c f" style="left:474px;top:671px;width:244px;height:30px;background:#ffffff;"><div class="t">***sur inscription avant le 8, places très limitées,<br>parrticipation de 5 €</div></div>
<div class="c f" style="left:717px;top:671px;width:240px;height:30px;background:#f6c08e;"><div class="t">Slim&nbsp; : 07 82 92 79 77</div></div>
</body></html>
